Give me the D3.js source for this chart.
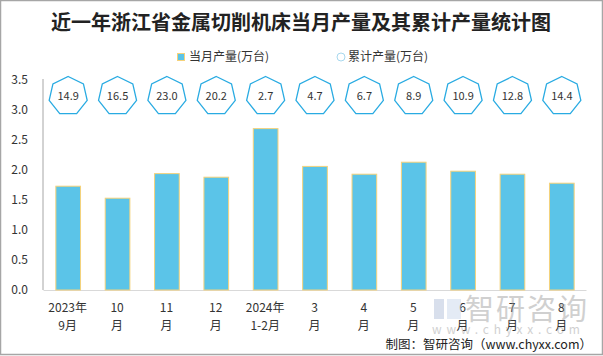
<!DOCTYPE html>
<html>
<head>
<meta charset="utf-8">
<script src="https://cdn.jsdelivr.net/npm/d3@7"></script>
<style>
  html, body { margin: 0; padding: 0; background: #fff; }
  svg { display: block; }
</style>
</head>
<body>
<svg id="chart" width="603" height="356"></svg>
<script>
const categories = [["2023年","9月"],["10","月"],["11","月"],["12","月"],["2024年","1-2月"],["3","月"],["4","月"],["5","月"],["6","月"],["7","月"],["8","月"]];
const monthly = [1.73, 1.53, 1.94, 1.88, 2.69, 2.06, 1.93, 2.13, 1.98, 1.93, 1.78];
const cumulative = [14.9, 16.5, 23.0, 20.2, 2.7, 4.7, 6.7, 8.9, 10.9, 12.8, 14.4];
const yTicks = [0, 0.5, 1.0, 1.5, 2.0, 2.5, 3.0, 3.5];
const title = "近一年浙江省金属切削机床当月产量及其累计产量统计图";
const legendLabels = ["当月产量(万台)", "累计产量(万台)"];

(function() {
const svg = d3.select("#chart");
const font = "'Noto Sans CJK SC', 'Open Sans', sans-serif";
const pLeft = 43, pRight = 586, pTop = 80, pBottom = 290;

svg.append("rect").attr("x", 0.5).attr("y", 0.5).attr("width", 602).attr("height", 354)
  .attr("fill", "#fff").attr("stroke", "#a6a6a6").attr("stroke-width", 1.5);

svg.append("text").attr("x", 301).attr("y", 30).attr("text-anchor", "middle")
  .attr("font-family", font).attr("font-weight", "bold").attr("font-size", 20)
  .attr("fill", "#222").text(title);

// legend
svg.append("rect").attr("x", 177.5).attr("y", 53.5).attr("width", 7).attr("height", 7)
  .attr("fill", "#5bc4e8").attr("stroke", "#f5d27a");
svg.append("text").attr("x", 189).attr("y", 61).attr("font-family", font).attr("font-size", 12)
  .attr("fill", "#333").text(legendLabels[0]);
svg.append("circle").attr("cx", 341).attr("cy", 57).attr("r", 4)
  .attr("fill", "#fff").attr("stroke", "#a8d8ee").attr("stroke-width", 1);
svg.append("text").attr("x", 348).attr("y", 61).attr("font-family", font).attr("font-size", 12)
  .attr("fill", "#333").text(legendLabels[1]);

const x = d3.scaleBand().domain(d3.range(categories.length)).range([pLeft, pRight]).paddingInner(0.5).paddingOuter(0.25);
const y = d3.scaleLinear().domain([0, 3.5]).range([pBottom, pTop]);

// y axis
const yAxis = svg.append("g").attr("transform", `translate(${pLeft},0)`)
  .call(d3.axisLeft(y).tickValues(yTicks).tickFormat(d3.format(".1f")).tickSize(0).tickPadding(15));
yAxis.select(".domain").attr("stroke", "#a6a6a6").attr("d", `M0,${pBottom}V${pTop - 1}`);
yAxis.selectAll("text").attr("font-family", font).attr("font-size", 12).attr("fill", "#333");

// x axis
const xAxis = svg.append("g").attr("transform", `translate(0,${pBottom})`)
  .call(d3.axisBottom(x).tickSize(0).tickFormat(""));
xAxis.select(".domain").attr("stroke", "#d9d9d9");
xAxis.selectAll(".tick").each(function(d) {
  const t = d3.select(this).select("text");
  t.text(null).attr("font-family", font).attr("font-size", 12).attr("fill", "#333").attr("y", 0).attr("dy", null);
  t.append("tspan").attr("x", 0).attr("y", 22).text(categories[d][0]);
  t.append("tspan").attr("x", 0).attr("y", 40).text(categories[d][1]);
});

// bars
svg.append("g").selectAll("rect").data(monthly).join("rect")
  .attr("x", (d, i) => x(i) + 0.5).attr("y", d => y(d))
  .attr("width", x.bandwidth()).attr("height", d => y(0) - y(d))
  .attr("fill", "#5bc4e8").attr("stroke", "#f5d27a").attr("stroke-width", 1);

// heptagons
const R = 19.5, cy = 96;
const hept = d3.range(7).map(k => {
  const a = k * 2 * Math.PI / 7;
  return [R * Math.sin(a), -R * Math.cos(a)];
});
const hg = svg.append("g").selectAll("g").data(cumulative).join("g")
  .attr("transform", (d, i) => `translate(${x(i) + x.bandwidth() / 2 + 0.5},${cy})`);
hg.append("polygon").attr("points", hept.map(p => p.join(",")).join(" "))
  .attr("fill", "#fff").attr("stroke", "#29abe2").attr("stroke-width", 1.3);
hg.append("text").attr("text-anchor", "middle").attr("dy", "0.35em")
  .attr("font-family", font).attr("font-size", 11).attr("fill", "#333")
  .text(d => d3.format(".1f")(d));

// watermark
const wm = svg.append("g").attr("opacity", 0.45);
wm.append("rect").attr("x", 434).attr("y", 299).attr("width", 10).attr("height", 20).attr("fill", "#a9b9d6");
wm.append("rect").attr("x", 447).attr("y", 299).attr("width", 14).attr("height", 20).attr("fill", "#c5d5ea");
wm.append("text").attr("x", 465).attr("y", 320).attr("font-family", font).attr("font-size", 29)
  .attr("fill", "#999").attr("letter-spacing", 2).text("智研咨询");
wm.append("text").attr("x", 432).attr("y", 334).attr("font-family", font).attr("font-size", 12)
  .attr("fill", "#999").attr("letter-spacing", 4.8).text("www.chyxx.com");

// footer
svg.append("text").attr("x", 592).attr("y", 349).attr("text-anchor", "end")
  .attr("font-family", "'Noto Sans CJK SC', 'Liberation Serif', serif").attr("font-size", 12.5)
  .attr("fill", "#222").text("制图：智研咨询（www.chyxx.com）");
})();
</script>
</body>
</html>
